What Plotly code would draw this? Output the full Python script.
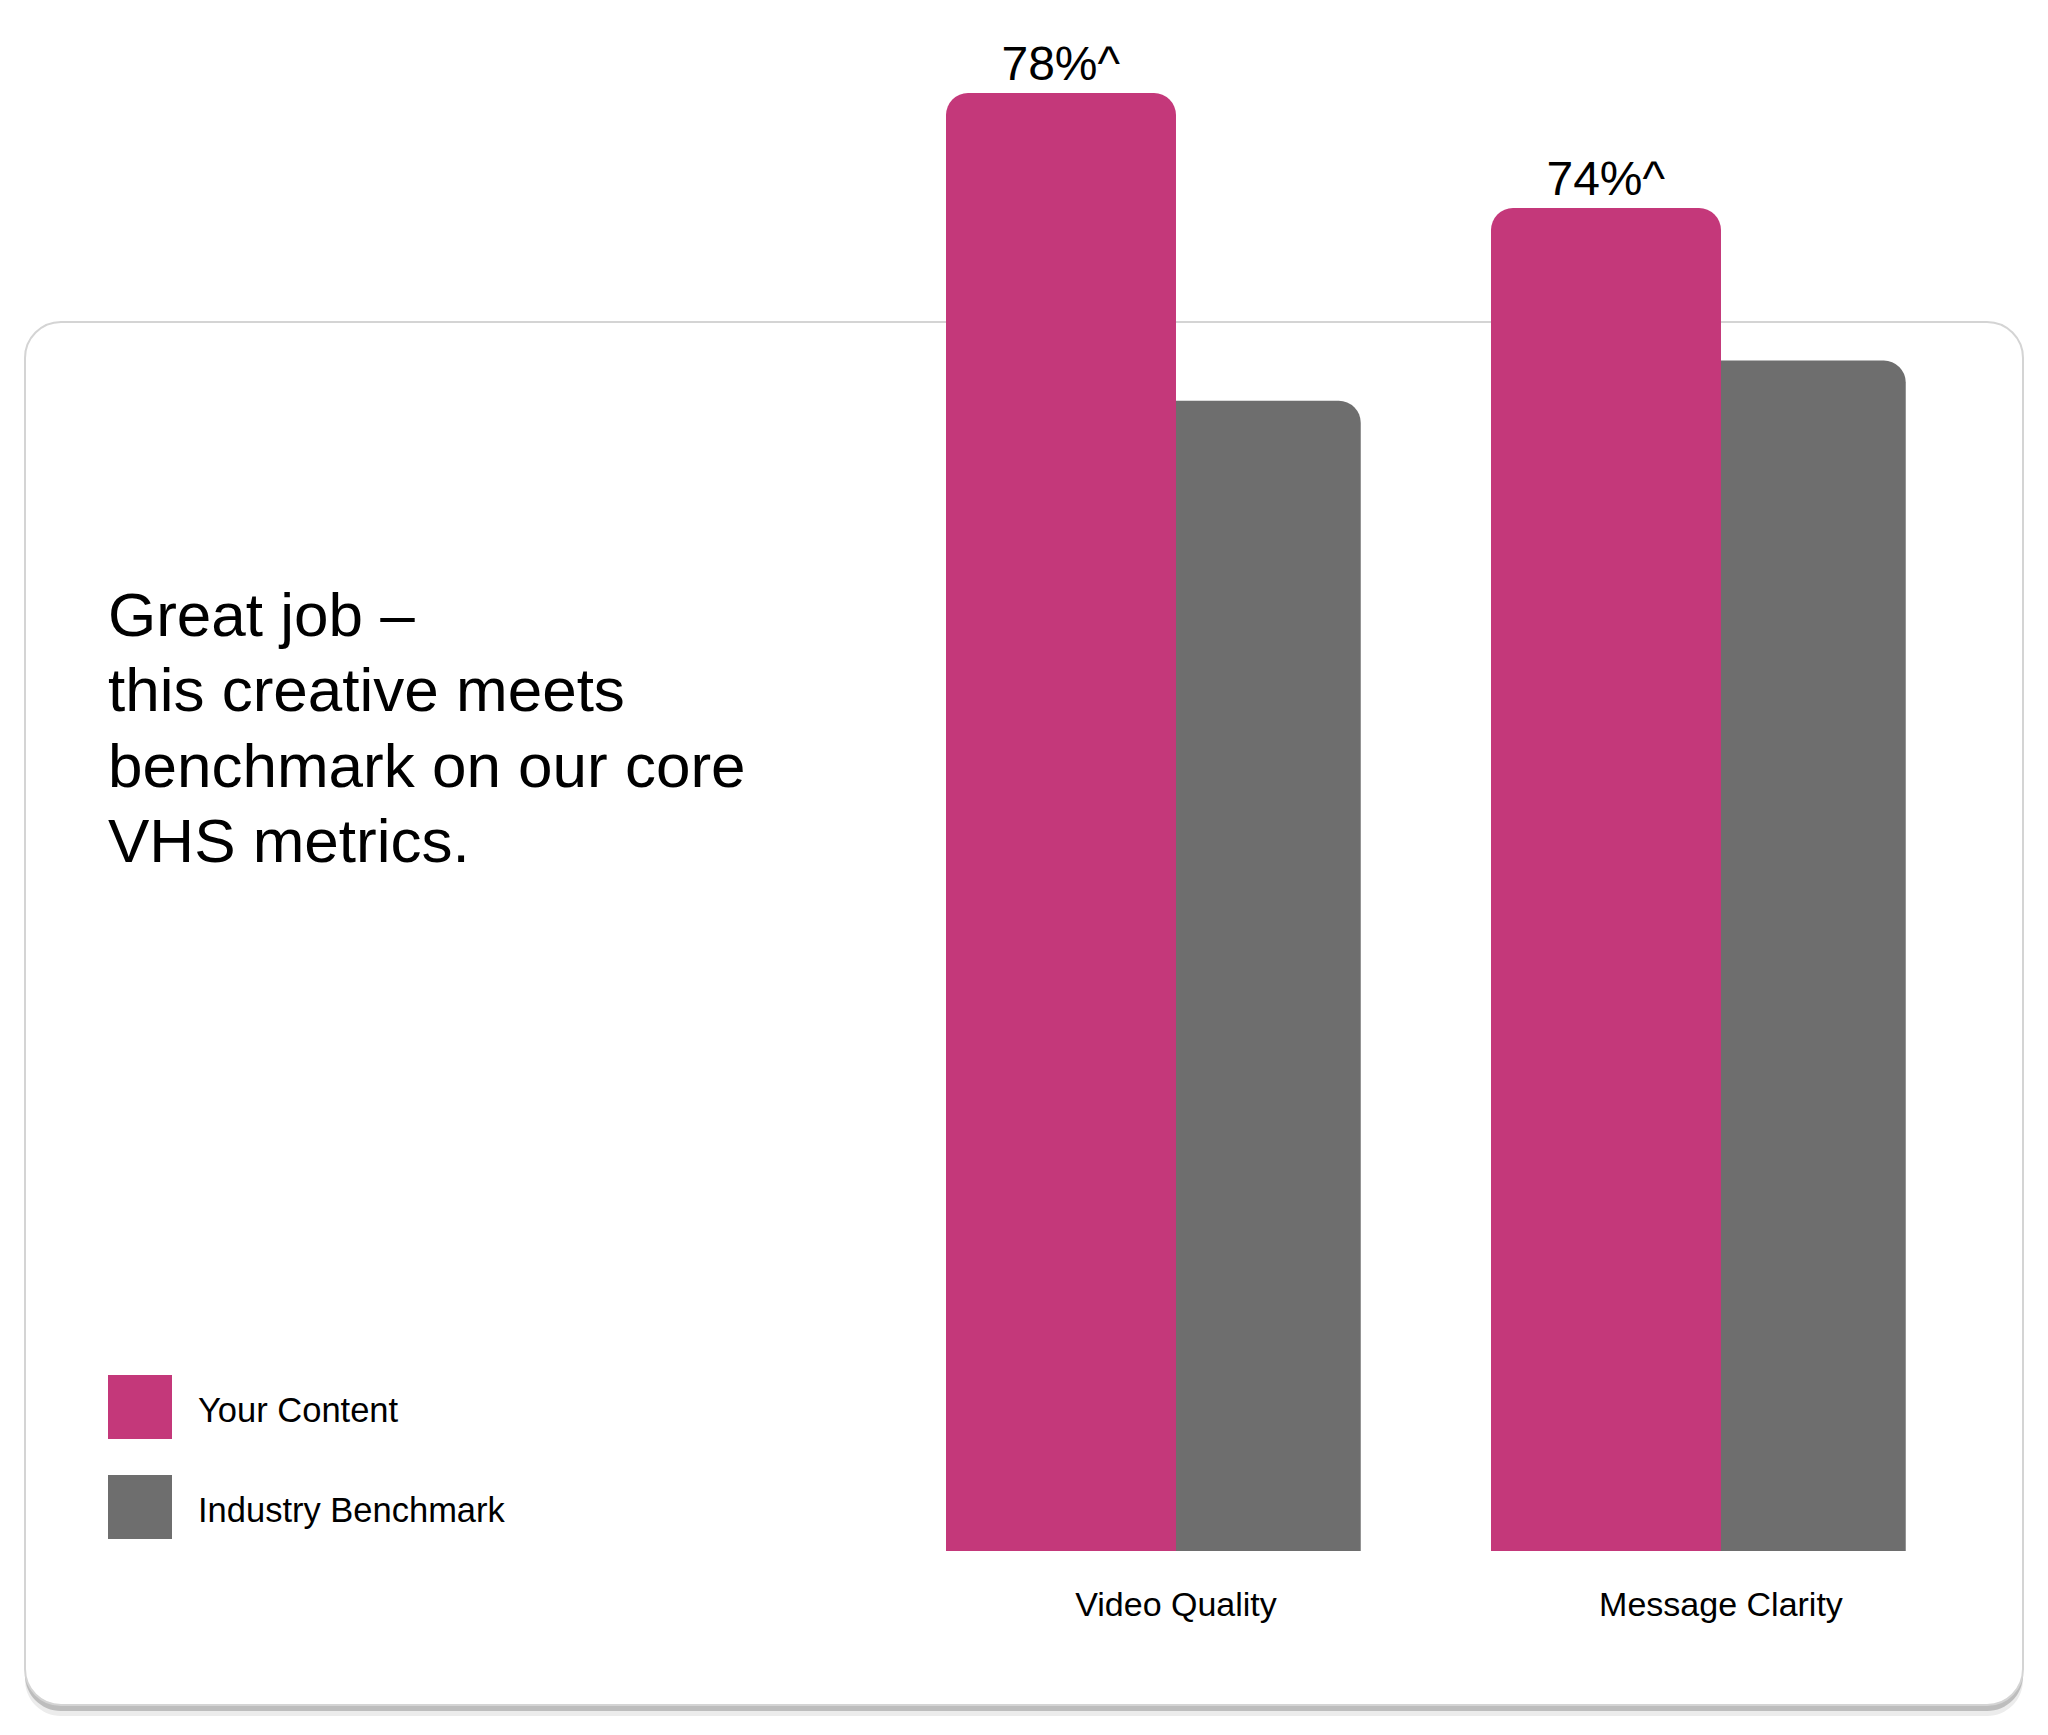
import plotly.graph_objects as go

# ---- data ----
categories = ["Video Quality", "Message Clarity"]
your_content = [78, 74]
benchmark = [67.3, 68.7]
value_labels = ["78%^", "74%^"]
series_names = ["Your Content", "Industry Benchmark"]
headline_lines = ["Great job –", "this creative meets", "benchmark on our core", "VHS metrics."]

# ---- style ----
W, H = 2048, 1735
OFF = 8  # page body margin
PINK = "#C4387A"
GRAY = "#6E6E6E"
FONT = "Liberation Sans, Arial, sans-serif"

def P(px, py):
    return (px - OFF) / W, 1 - (py - OFF) / H

def rr_path(x0, y0, x1, y1, r):
    k = 0.5523 * r
    pts = [
        ("M", [(x0 + r, y0)]),
        ("L", [(x1 - r, y0)]),
        ("C", [(x1 - r + k, y0), (x1, y0 + r - k), (x1, y0 + r)]),
        ("L", [(x1, y1 - r)]),
        ("C", [(x1, y1 - r + k), (x1 - r + k, y1), (x1 - r, y1)]),
        ("L", [(x0 + r, y1)]),
        ("C", [(x0 + r - k, y1), (x0, y1 - r + k), (x0, y1 - r)]),
        ("L", [(x0, y0 + r)]),
        ("C", [(x0, y0 + r - k), (x0 + r - k, y0), (x0 + r, y0)]),
    ]
    s = ""
    for cmd, ps in pts:
        s += cmd + " " + " ".join("%.6f,%.6f" % P(a, b) for a, b in ps) + " "
    return s + "Z"

fig = go.Figure()
fig.add_trace(go.Bar(
    x=categories, y=benchmark, name=series_names[1],
    marker=dict(color=GRAY, line=dict(width=0)),
    offset=-0.083, width=0.422, hoverinfo="skip",
))
fig.add_trace(go.Bar(
    x=categories, y=your_content, name=series_names[0],
    marker=dict(color=PINK, line=dict(width=0)),
    offset=-0.422, width=0.422,
    text=value_labels, textposition="outside", cliponaxis=False,
    textfont=dict(family=FONT, size=48, color="#000000"),
    hoverinfo="skip",
))

shapes = [
    dict(type="path", xref="paper", yref="paper", layer="below",
         path=rr_path(25, 330, 2023, 1716, 36), fillcolor="#ECECEC", line=dict(width=0)),
    dict(type="path", xref="paper", yref="paper", layer="below",
         path=rr_path(25, 326, 2023, 1711, 36), fillcolor="#BDBDBD", line=dict(width=0)),
    dict(type="path", xref="paper", yref="paper", layer="below",
         path=rr_path(25, 322, 2023, 1705, 36), fillcolor="#FFFFFF",
         line=dict(color="#D4D4D4", width=2)),
]
# legend swatches
for i, col in enumerate([PINK, GRAY]):
    x0, y0 = P(108, 1375 + 100 * i)
    x1, y1 = P(172, 1439 + 100 * i)
    shapes.append(dict(type="rect", xref="paper", yref="paper", x0=x0, x1=x1, y0=y1, y1=y0,
                       fillcolor=col, line=dict(width=0)))

annotations = []
for i, name in enumerate(series_names):
    ax, ay = P(196, 1410 + 100 * i)
    annotations.append(dict(text=name, x=ax, y=ay, xref="paper", yref="paper",
                            xanchor="left", yanchor="middle", showarrow=False,
                            font=dict(family=FONT, size=34.5, color="#000000")))
for i, line in enumerate(headline_lines):
    ax, ay = P(106, 614.5 + 75.3 * i)
    annotations.append(dict(text=line, x=ax, y=ay, xref="paper", yref="paper",
                            xanchor="left", yanchor="middle", showarrow=False,
                            font=dict(family=FONT, size=62, color="#000000")))

base_px = 1543  # bar baseline in figure pixels
fig.update_layout(
    width=W, height=H,
    margin=dict(l=0, r=0, t=0, b=0),
    paper_bgcolor="#FFFFFF", plot_bgcolor="rgba(0,0,0,0)",
    barmode="overlay", barcornerradius=22,
    showlegend=False,
    shapes=shapes, annotations=annotations,
    xaxis=dict(range=[-2.1431, 1.6147], domain=[0, 1], showgrid=False, zeroline=False,
               showline=False, ticks="", ticklabelstandoff=30,
               tickfont=dict(family=FONT, size=34, color="#000000")),
    yaxis=dict(range=[27.29, 80.96], domain=[(H - base_px) / H, 1], visible=False),
)
fig.write_html("out.html")
